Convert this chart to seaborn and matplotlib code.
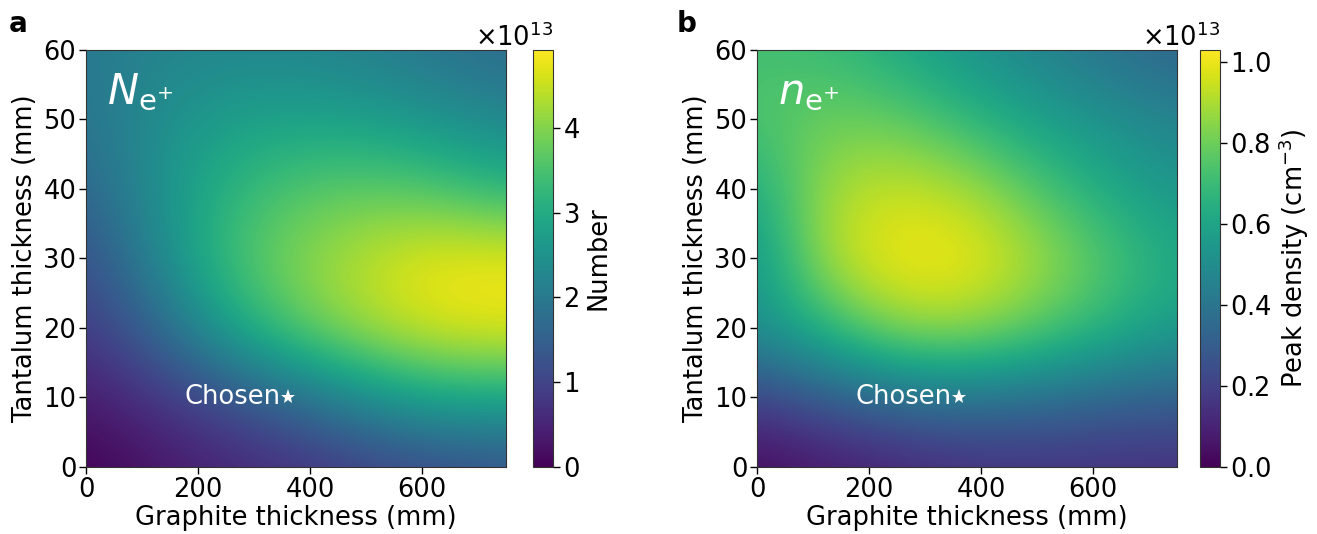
import matplotlib
matplotlib.use('Agg')
import matplotlib.pyplot as plt
import matplotlib.ticker as mticker
import numpy as np
import seaborn as sns

graphite_mm = [0, 125, 250, 375, 500, 625, 750]
tantalum_mm = [0, 10, 20, 30, 40, 50, 60]

# positron number, units of 1e13; rows = tantalum (0 -> 60), cols = graphite
number_rows = [
    [0.00, 0.25, 0.50, 0.65, 0.90, 1.05, 1.20],
    [0.35, 0.75, 1.20, 1.75, 2.40, 2.90, 2.90],
    [0.85, 1.60, 2.80, 3.70, 4.30, 4.70, 4.80],
    [1.20, 2.25, 3.40, 4.00, 4.45, 4.80, 4.80],
    [1.60, 2.45, 3.15, 3.60, 3.70, 3.55, 3.15],
    [1.90, 2.40, 2.75, 2.80, 2.75, 2.50, 2.25],
    [2.00, 2.20, 2.25, 2.25, 2.10, 1.90, 1.70],
]
number_max = 4.92

# peak positron density, units of 1e13 cm^-3
density_rows = [
    [0.02, 0.06, 0.10, 0.13, 0.14, 0.14, 0.14],
    [0.20, 0.29, 0.36, 0.39, 0.37, 0.33, 0.31],
    [0.52, 0.68, 0.87, 0.88, 0.78, 0.67, 0.57],
    [0.52, 0.92, 1.02, 1.02, 0.90, 0.75, 0.62],
    [0.62, 0.89, 0.95, 0.90, 0.75, 0.62, 0.54],
    [0.74, 0.80, 0.78, 0.68, 0.58, 0.52, 0.46],
    [0.72, 0.70, 0.62, 0.53, 0.46, 0.39, 0.33],
]
density_max = 1.03

chosen_graphite = 360
chosen_tantalum = 10

sns.set_style('ticks')
plt.rcParams['font.family'] = ['DejaVu Sans']
plt.rcParams.update({'text.color': 'black', 'axes.labelcolor': 'black',
                     'xtick.color': 'black', 'ytick.color': 'black'})
cmap = sns.color_palette('viridis', as_cmap=True)

fig = plt.figure(figsize=(13.17, 5.34), dpi=100)

panels = [
    (number_rows, number_max, r'$N_{\mathrm{e}^{+}}$', 'Number', [0, 1, 2, 3, 4], 0.0653, 0.4047, 'a', 0.007),
    (density_rows, density_max, r'$n_{\mathrm{e}^{+}}$', r'Peak density (cm$^{-3}$)', [0, 0.2, 0.4, 0.6, 0.8, 1.0], 0.5748, 0.9112, 'b', 0.514),
]

dx = graphite_mm[1] - graphite_mm[0]
dy = tantalum_mm[1] - tantalum_mm[0]
extent = [graphite_mm[0] - dx / 2, graphite_mm[-1] + dx / 2,
          tantalum_mm[0] - dy / 2, tantalum_mm[-1] + dy / 2]

fs = 18.5

for rows, vmax, symbol, cbar_label, cticks, ax_left, cb_left, tag, tag_x in panels:
    ax = fig.add_axes([ax_left, 0.1255, 0.3189, 0.781])
    cax = fig.add_axes([cb_left, 0.1255, 0.0152, 0.781])
    vals = np.array(rows) * 1e13
    im = ax.imshow(vals, origin='lower', extent=extent, aspect='auto', cmap=cmap,
                   vmin=0, vmax=vmax * 1e13, interpolation='bicubic')
    ax.set_xlim(graphite_mm[0], graphite_mm[-1])
    ax.set_ylim(tantalum_mm[0], tantalum_mm[-1])
    ax.set_xticks([0, 200, 400, 600])
    ax.set_yticks(tantalum_mm)
    ax.tick_params(labelsize=fs, length=5, width=1, color='black', pad=2)
    ax.set_xlabel('Graphite thickness (mm)', fontsize=fs, labelpad=2)
    ax.set_ylabel('Tantalum thickness (mm)', fontsize=fs, labelpad=4)
    for s in ax.spines.values():
        s.set_color('#333333')

    ax.text(0.05, 0.9, symbol, transform=ax.transAxes, color='white', fontsize=30,
            ha='left', va='center')
    ax.plot([chosen_graphite], [chosen_tantalum], marker='*', color='white', markersize=11,
            markeredgewidth=0, linestyle='none')
    ax.text(chosen_graphite - 12, chosen_tantalum, 'Chosen', color='white', fontsize=fs,
            ha='right', va='center')

    fmt = mticker.ScalarFormatter(useMathText=True)
    fmt.set_powerlimits((0, 0))
    cb = fig.colorbar(im, cax=cax, format=fmt)
    cb.set_ticks([t * 1e13 for t in cticks])
    cb.ax.tick_params(labelsize=fs, length=5, width=1, color='black', pad=2)
    cb.ax.yaxis.get_offset_text().set_fontsize(fs)
    cb.set_label(cbar_label, fontsize=fs)
    cb.outline.set_edgecolor('#333333')

    fig.text(tag_x, 0.955, tag, fontsize=20, fontweight='bold', ha='left', va='center')

fig.savefig('out.png', dpi=100)
